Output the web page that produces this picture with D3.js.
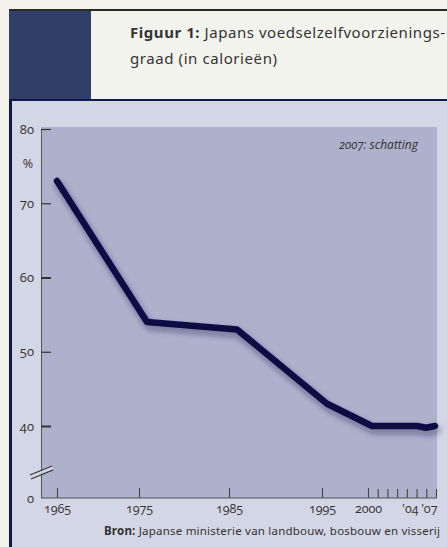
<!DOCTYPE html>
<html>
<head>
<meta charset="utf-8">
<script src="https://cdn.jsdelivr.net/npm/d3@7"></script>
<style>
  body { margin: 0; background: #f2f2ea; }
  text { font-family: "Noto Sans", "Open Sans", sans-serif; fill: #333; }
  .num text, text.num { font-family: "Open Sans", "Noto Sans", sans-serif; font-feature-settings: "onum" 1; font-variant-numeric: oldstyle-nums; }
</style>
</head>
<body>
<div id="chart"></div>
<script>
// data
var years = [1965, 1975, 1985, 1995, 2000, 2001, 2002, 2003, 2004, 2005, 2006, 2007];
var selfSufficiency = [73, 54, 53, 43, 40, 40, 40, 40, 40, 40, 39, 40];
var xTickYears = [1965, 1975, 1985, 1995, 2000, 2001, 2002, 2003, 2004, 2005, 2006, 2007];
var xTickLabels = ["1965", "1975", "1985", "1995", "2000", "", "", "", "'04", "", "", "'07"];
var yTickValues = [0, 40, 50, 60, 70, 80];

var W = 447, H = 547;
var plot = { left: 41, right: 437, top: 127, bottom: 498 };

var svg = d3.select("#chart").append("svg")
    .attr("width", W)
    .attr("height", H);

var defs = svg.append("defs");
var shadow = defs.append("filter").attr("id", "shadow")
    .attr("x", "-10%").attr("y", "-10%").attr("width", "130%").attr("height", "140%");
shadow.append("feDropShadow")
    .attr("dx", 2).attr("dy", 4).attr("stdDeviation", 3)
    .attr("flood-color", "#1a1f45").attr("flood-opacity", 0.45);

// header
svg.append("rect").attr("x", 9).attr("y", 9).attr("width", W - 9).attr("height", 2).attr("fill", "#2a2a2a");
svg.append("rect").attr("x", 9).attr("y", 11).attr("width", 82).attr("height", 89).attr("fill", "#313f68");
svg.append("rect").attr("x", 91).attr("y", 11).attr("width", W - 91).attr("height", 89).attr("fill", "#f3f3ed");

var title = svg.append("text").attr("x", 130).attr("y", 38).attr("font-size", "15px")
    .attr("textLength", 315).attr("lengthAdjust", "spacing");
title.append("tspan").attr("font-weight", "bold").text("Figuur 1:");
title.append("tspan").text(" Japans voedselzelfvoorzienings-");
svg.append("text").attr("x", 130).attr("y", 64).attr("font-size", "15px")
    .attr("textLength", 147).attr("lengthAdjust", "spacing")
    .text("graad (in calorieën)");

// panel
svg.append("rect").attr("x", 9).attr("y", 99).attr("width", W - 9).attr("height", H - 99).attr("fill", "#d3d6e4");
svg.append("rect").attr("x", 9).attr("y", 99).attr("width", W - 9).attr("height", 2).attr("fill", "#101850");
svg.append("rect").attr("x", 9).attr("y", 99).attr("width", 3).attr("height", H - 99).attr("fill", "#101850");

svg.append("rect")
    .attr("x", plot.left).attr("y", plot.top)
    .attr("width", plot.right - plot.left).attr("height", plot.bottom - plot.top)
    .attr("fill", "#adb1cc");

// scales
var x = d3.scaleLinear().domain([1965, 2007]).range([57, 435]);
var xAxisScale = d3.scaleLinear()
    .domain([1965, 1975, 1985, 1995, 2000, 2007])
    .range([57, 139, 229, 322, 368, 436]);
var y = d3.scaleLinear().domain([0, 40, 80]).range([498, 426, 129]);

// y axis
var yAxis = svg.append("g")
    .attr("class", "num")
    .attr("transform", "translate(" + plot.left + ",0)")
    .call(d3.axisLeft(y).tickValues(yTickValues).tickSize(-10).tickSizeOuter(0).tickPadding(7));
yAxis.select(".domain").attr("stroke", "#555");
yAxis.selectAll(".tick line").attr("stroke", "#333").attr("stroke-width", function(d) {
    return (d == 60 || d == 40) ? 2 : 1.2;
});
yAxis.selectAll(".tick").filter(function(d) { return d == 0; }).select("line").remove();
yAxis.selectAll("text").attr("font-size", "13px").attr("fill", "#333");

svg.append("text").attr("class", "num").attr("x", 28).attr("y", 168).attr("text-anchor", "middle")
    .attr("font-size", "12.5px").text("%");

// x axis
var xAxis = svg.append("g")
    .attr("class", "num")
    .attr("transform", "translate(0," + plot.bottom + ")")
    .call(d3.axisBottom(xAxisScale).tickValues(xTickYears).tickSize(-10).tickSizeOuter(0).tickPadding(6)
        .tickFormat(function(d, i) { return xTickLabels[i]; }));
xAxis.select(".domain").remove();
xAxis.selectAll(".tick line").attr("stroke", "#444").attr("stroke-width", 1.1)
    .attr("y2", function(d) { return d > 2000 ? -9 : -10; });
xAxis.selectAll("text").attr("font-size", "12.5px").attr("fill", "#333");
xAxis.selectAll(".tick").filter(function(d) { return d == 2007; }).select("text")
    .attr("text-anchor", "end").attr("dx", 1);
xAxis.selectAll(".tick").filter(function(d) { return d == 2004; }).select("text")
    .attr("dx", 3);

svg.append("line")
    .attr("x1", plot.left).attr("x2", plot.right)
    .attr("y1", plot.bottom).attr("y2", plot.bottom)
    .attr("stroke", "#555").attr("stroke-width", 1);

// axis break
svg.append("polygon")
    .attr("points", "30,475 52,466 53,469 31,478")
    .attr("fill", "#d3d6e4");
svg.append("line").attr("x1", 30).attr("y1", 475).attr("x2", 52).attr("y2", 466)
    .attr("stroke", "#333").attr("stroke-width", 1.2);
svg.append("line").attr("x1", 31).attr("y1", 479).attr("x2", 53).attr("y2", 470)
    .attr("stroke", "#333").attr("stroke-width", 1.2);

// line
var line = d3.line()
    .x(function(d, i) { return x(years[i]); })
    .y(function(d) { return y(d); });

svg.append("path")
    .datum(selfSufficiency)
    .attr("d", line)
    .attr("fill", "none")
    .attr("stroke", "#0b1045")
    .attr("stroke-width", 6.5)
    .attr("stroke-linecap", "round")
    .attr("stroke-linejoin", "round")
    .attr("filter", "url(#shadow)");

// notes
svg.append("text").attr("x", 418).attr("y", 149).attr("text-anchor", "end")
    .attr("class", "num")
    .attr("font-size", "12px").attr("font-style", "italic").text("2007: schatting");

var src = svg.append("text").attr("x", 104).attr("y", 535).attr("font-size", "11.5px")
    .attr("textLength", 336).attr("lengthAdjust", "spacing");
src.append("tspan").attr("font-weight", "bold").text("Bron:");
src.append("tspan").text(" Japanse ministerie van landbouw, bosbouw en visserij");
</script>
</body>
</html>
